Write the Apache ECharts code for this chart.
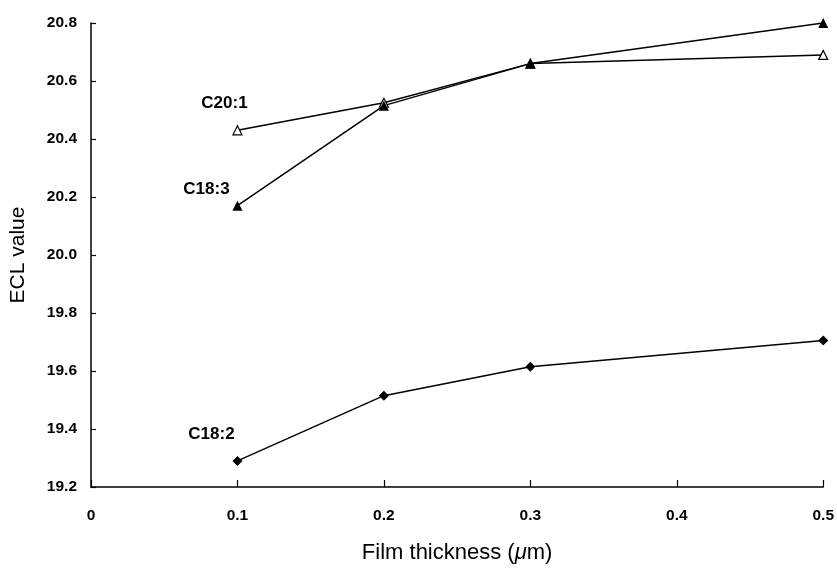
<!DOCTYPE html>
<html>
<head>
<meta charset="utf-8">
<script src="https://cdn.jsdelivr.net/npm/echarts@6/dist/echarts.min.js"></script>
<style>html,body{margin:0;padding:0;background:#fff;}#c{width:837px;height:569px;}</style>
</head>
<body>
<div id="c"></div>
<script>
const thickness = [0.1, 0.2, 0.3, 0.5];
const seriesNames = ['C20:1', 'C18:3', 'C18:2'];
const c201 = [20.43, 20.525, 20.66, 20.69];
const c183 = [20.17, 20.515, 20.66, 20.80];
const c182 = [19.29, 19.515, 19.615, 19.705];
const yTicks = [19.2, 19.4, 19.6, 19.8, 20.0, 20.2, 20.4, 20.6, 20.8];
const xTicks = [0, 0.1, 0.2, 0.3, 0.4, 0.5];

const labelOffsets = [[-13, -8], [-31, 2], [-26, -8]];

const font = 'Liberation Sans, Arial, sans-serif';
function build(vals, idx) {
  return vals.map((v, i) => {
    const d = { value: [thickness[i], v] };
    if (i === 0) {
      d.label = {
        show: true, position: 'top', offset: labelOffsets[idx],
        formatter: seriesNames[idx], fontFamily: font,
        fontWeight: 'bold', fontSize: 17, color: '#000'
      };
    }
    return d;
  });
}

const chart = echarts.init(document.getElementById('c'), null, { renderer: 'canvas' });
chart.setOption({
  animation: false,
  backgroundColor: '#fff',
  grid: { left: 91, right: 12, top: 23, bottom: 74, containLabel: false },
  xAxis: {
    type: 'value', min: xTicks[0], max: xTicks[xTicks.length - 1], interval: 0.1,
    name: 'Film thickness ({i|μ}m)', nameLocation: 'middle', nameGap: 55,
    nameTextStyle: { fontFamily: font, fontSize: 22, color: '#000',
      rich: { i: { fontStyle: 'italic', fontFamily: font, fontSize: 22, color: '#000' } } },
    axisLine: { show: true, lineStyle: { color: '#000', width: 1.5 } },
    axisTick: { show: true, inside: true, length: 7, lineStyle: { color: '#000', width: 1.2 } },
    axisLabel: { fontFamily: font, fontWeight: 'bold', fontSize: 15.5, color: '#000', margin: 21,
      formatter: v => v === 0 ? '0' : v.toFixed(1) },
    splitLine: { show: false }
  },
  yAxis: {
    type: 'value', min: yTicks[0], max: yTicks[yTicks.length - 1], interval: 0.2,
    name: 'ECL value', nameLocation: 'middle', nameGap: 62,
    nameTextStyle: { fontFamily: font, fontSize: 21, color: '#000' },
    axisLine: { show: true, lineStyle: { color: '#000', width: 1.5 } },
    axisTick: { show: true, inside: true, length: 5, lineStyle: { color: '#000', width: 1.2 } },
    axisLabel: { fontFamily: font, fontWeight: 'bold', fontSize: 15.5, color: '#000', margin: 14,
      formatter: v => v.toFixed(1) },
    splitLine: { show: false }
  },
  series: [
    { name: seriesNames[0], type: 'line', data: build(c201, 0), clip: false,
      symbol: 'triangle', symbolSize: 9,
      itemStyle: { color: '#fff', borderColor: '#000', borderWidth: 1.2 },
      lineStyle: { color: '#000', width: 1.5 } },
    { name: seriesNames[1], type: 'line', data: build(c183, 1), clip: false,
      symbol: 'triangle', symbolSize: 10,
      itemStyle: { color: '#000', borderColor: '#000', borderWidth: 0 },
      lineStyle: { color: '#000', width: 1.5 } },
    { name: seriesNames[2], type: 'line', data: build(c182, 2), clip: false,
      symbol: 'diamond', symbolSize: 10,
      itemStyle: { color: '#000', borderColor: '#000', borderWidth: 0 },
      lineStyle: { color: '#000', width: 1.5 } }
  ]
});
</script>
</body>
</html>
